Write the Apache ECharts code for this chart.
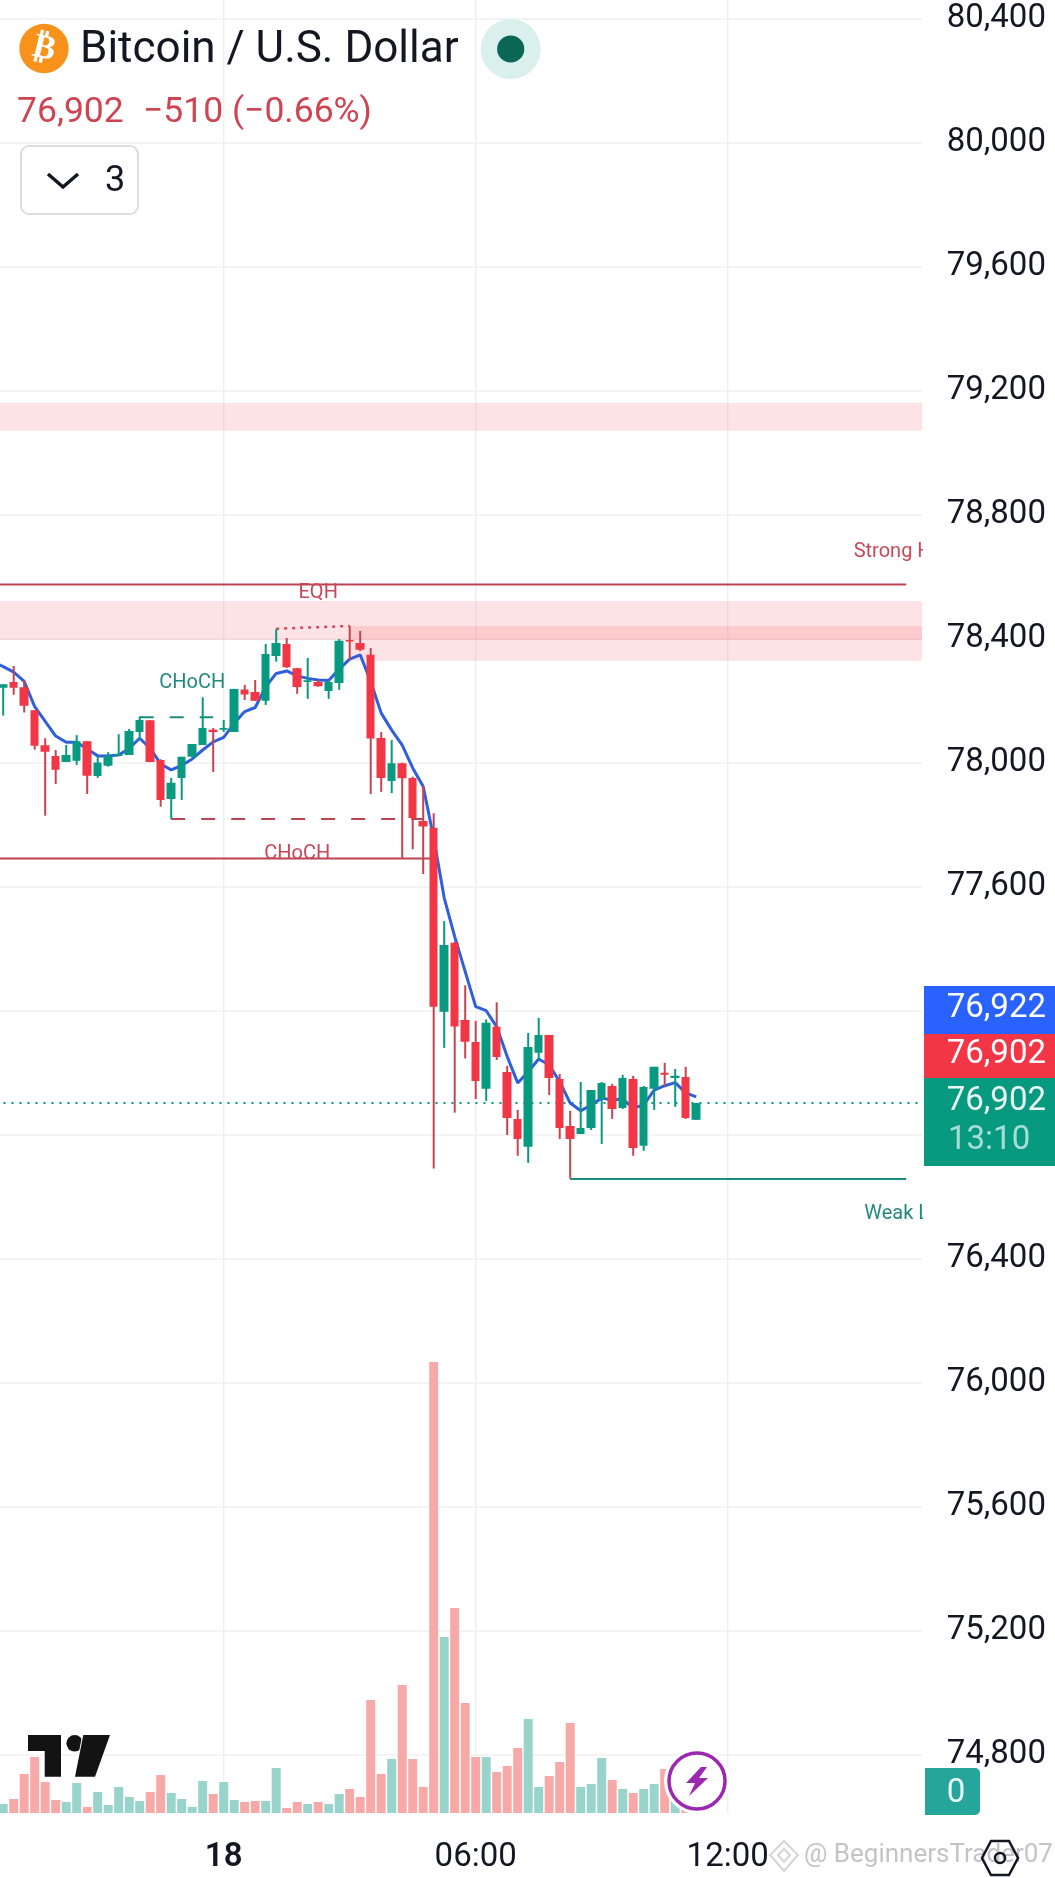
<!DOCTYPE html>
<html><head><meta charset="utf-8"><style>html,body{margin:0;padding:0;background:#fff}#c{width:1055px;height:1878px}</style>
<script src="https://cdn.jsdelivr.net/npm/echarts@6/dist/echarts.min.js"></script></head><body><div id="c"></div>
<script>
const times=["18:30","18:45","19:00","19:15","19:30","19:45","20:00","20:15","20:30","20:45","21:00","21:15","21:30","21:45","22:00","22:15","22:30","22:45","23:00","23:15","23:30","23:45","18","00:15","00:30","00:45","01:00","01:15","01:30","01:45","02:00","02:15","02:30","02:45","03:00","03:15","03:30","03:45","04:00","04:15","04:30","04:45","05:00","05:15","05:30","05:45","06:00","06:15","06:30","06:45","07:00","07:15","07:30","07:45","08:00","08:15","08:30","08:45","09:00","09:15","09:30","09:45","10:00","10:15","10:30","10:45","11:00","11:15","11:30","11:45","12:00","12:15","12:30","12:45","13:00","13:15","13:30","13:45","14:00","14:15","14:30","14:45","15:00","15:15","15:30","15:45","16:00","16:15","16:30"];
const opens=[78300,78242,78260,78243,78169,78056,78022,78002,78006,78069,77957,77990,78022,78025,78099,78137,78009,77883,77951,78019,78057,78106,78106,78099,78236,78228,78200,78344,78383,78305,78260,78260,78231,78257,78396,78386,78348,78080,77941,77998,77951,77812,77790,77197,77419,77170,77099,76948,77148,77002,76851,76761,77064,77122,76980,76828,76802,76822,76915,76957,76886,76980,76764,76948,77000,76983,76986,76848];
const closes=[78250,78253,78242,78184,78055,78035,77977,78025,78069,77958,78001,78022,78028,78102,78138,78002,77880,77935,78019,78060,78112,78099,78112,78238,78220,78200,78351,78386,78308,78244,78266,78247,78260,78393,78391,78364,78078,77951,77998,77950,77822,77794,77213,77412,77149,77100,76973,77161,77051,76854,76786,77083,77122,76983,76822,76786,76822,76944,76967,76883,76983,76757,76954,77019,76993,76990,76854,76902];
const lows=[78230,78152,78219,78162,78042,77829,77931,78002,77993,77899,77951,77987,78022,78025,78073,78002,77858,77818,77880,78017,78057,77970,78099,78099,78202,78199,78186,78326,78306,78222,78206,78245,78206,78235,78331,78360,77899,77906,77902,77691,77721,77641,76691,77080,76871,77046,76915,76909,77041,76799,76732,76709,77041,76928,76786,76658,76802,76815,76770,76851,76883,76732,76748,76880,76957,76890,76851,76848];
const highs=[78320,78253,78312,78267,78170,78079,78041,78057,78089,78069,78020,78034,78092,78109,78149,78138,78011,77951,78019,78060,78211,78112,78138,78238,78251,78267,78383,78431,78402,78306,78338,78267,78267,78399,78441,78425,78370,78099,78073,78000,77955,77925,77837,77489,77422,77282,77167,77172,77227,77022,76880,77128,77177,77122,76996,76877,76970,76944,76970,76964,76993,76990,76957,77019,77032,77012,77019,76902];
const maLine=[78326,78310,78292,78262,78181,78133,78086,78066,78066,78044,78022,78022,78025,78046,78079,78046,77996,77977,77991,78012,78041,78067,78082,78127,78165,78178,78245,78288,78296,78280,78272,78267,78265,78302,78334,78348,78262,78160,78105,78057,77983,77923,77757,77564,77439,77326,77213,77200,77148,77052,76967,77003,77044,77025,76971,76902,76877,76896,76918,76912,76915,76886,76896,76944,76958,76968,76935,76922];
const volumes=[15,9,14,39,56,31,13,11,30,6,21,8,26,16,12,21,38,20,14,6,32,19,31,13,11,12,12,45,5,11,9,11,9,19,24,16,113,39,54,128,54,26,451,176,205,110,56,56,41,47,65,94,26,37,51,90,26,29,55,33,24,20,24,29,44,20,6,5];
const zones=[[null,null,79160,79071],[null,null,78522,78396],[34,null,78441,78329]];
const redSolid=[[null,87,78575,78575],[null,42,77691,77691]];
const redDashed=[[17,41,77818,77818]];
const redDotted=[[27,34,78432,78441]];
const tealSolid=[[55,87,76657,76657]];
const tealDashed=[[14,21,78147,78147]];
const lastPrice=[[null,null,76902,76902]];
const redTexts=[["Strong High",82,78689,"left"],["EQH",31,78555,"center"],["CHoCH",29,77713,"center"]];
const tealTexts=[["Weak Low",83,76552,"left"],["CHoCH",19,78264,"center"]];
const gridTimes=["18","06:00","12:00"];
const paneFloor=74609;

const RED='#F23645',TEAL='#089981';
const chart=echarts.init(document.getElementById('c'),null,{renderer:'canvas',width:1055,height:1878});
const hx=(p,api,i,edge)=> i===null?edge:api.coord([i,0])[0];
function custom(rows,z,render){return{type:'custom',xAxisIndex:0,yAxisIndex:0,z,clip:true,silent:true,
  data:rows.map((r,k)=>[k,0]),renderItem:(p,api)=>render(rows[p.dataIndex],p,api)}}
function levelSeries(rows,color,dash,width){return custom(rows,3,(r,p,api)=>{
  const cs=p.coordSys;
  return{type:'line',shape:{x1:hx(p,api,r[0],cs.x),y1:api.coord([0,r[2]])[1],x2:hx(p,api,r[1],cs.x+cs.width),y2:api.coord([0,r[3]])[1]},
    style:{stroke:color,lineWidth:width||2,lineDash:dash||null,fill:null}}})}
function textSeries(rows,color){return custom(rows,6,(r,p,api)=>{
  const c=api.coord([r[1],r[2]]);
  return{type:'text',style:{text:r[0],x:c[0],y:c[1]+2.4,fill:color,font:'400 20px Roboto',align:r[3],verticalAlign:'middle'}}})}
const T=(text,x,y,font,fill,align)=>({type:'text',z:50,style:{text,x,y,font,fill,align:align||'left',verticalAlign:'middle'}});
const R=(x,y,w,h,fill,r)=>({type:'rect',z:49,shape:{x,y,width:w,height:h,r:r||0},style:{fill}});

chart.setOption({
 animation:false,backgroundColor:'#fff',
 grid:[{left:-12.55,width:934.5,top:-105.3,height:1984,outerBoundsMode:'none'},{left:-12.55,width:934.5,top:1353,height:460,outerBoundsMode:'none'}],
 xAxis:[
  {type:'category',gridIndex:0,data:times,axisLine:{show:false},axisTick:{show:false},axisLabel:{show:false},splitLine:{show:false}},
  {type:'category',gridIndex:1,data:times,axisLine:{show:false},axisTick:{show:false},splitLine:{show:false},
   axisLabel:{margin:28,fontFamily:'Roboto',fontSize:33,color:'#131722',interval:(i,v)=>gridTimes.includes(v),
    formatter:v=>v==='18'?'{b|18}':v,rich:{b:{fontFamily:'Roboto',fontSize:33,fontWeight:600,color:'#131722'}}}}],
 yAxis:[
  {type:'value',gridIndex:0,position:'right',min:74400,max:80800,interval:400,axisLine:{show:false},axisTick:{show:false},
   splitLine:{lineStyle:{color:'#F0F0F0',width:1.5}},
   axisLabel:{showMinLabel:false,showMaxLabel:false,margin:124,align:'right',fontFamily:'Roboto',fontSize:33,color:'#131722',padding:[0,0,2,0],
    formatter:v=>v.toLocaleString('en-US')}},
  {type:'value',gridIndex:1,min:0,max:460,show:false}],
 series:[
  {type:'bar',xAxisIndex:1,yAxisIndex:1,barWidth:9,z:1,silent:true,
   data:volumes.map((v,i)=>({value:v,itemStyle:{color:closes[i]>=opens[i]?'#98D3CC':'#F7A9A7'}}))},
  custom(gridTimes,1,(t,p,api)=>{const x=api.coord([times.indexOf(t),0])[0];
    return{type:'line',shape:{x1:x,y1:0,x2:x,y2:api.coord([0,paneFloor])[1]},style:{stroke:'#F0F0F0',lineWidth:1.5}}}),
  custom(zones,2,(r,p,api)=>{const cs=p.coordSys,x1=hx(p,api,r[0],cs.x),x2=hx(p,api,r[1],cs.x+cs.width),
      y1=api.coord([0,r[2]])[1],y2=api.coord([0,r[3]])[1];
    return{type:'rect',shape:{x:x1,y:y1,width:x2-x1,height:y2-y1},style:{fill:'rgba(242,54,69,0.14)'}}}),
  levelSeries(lastPrice,TEAL,[2,6]),
  levelSeries(redSolid,'#BC4352'),
  levelSeries(redDashed,'#BC4352',[14,16]),
  levelSeries(redDotted,'#CC4A5A',[3,5],2.5),
  levelSeries(tealSolid,'#1F8A7E'),
  levelSeries(tealDashed,'#1F8A7E',[14,16]),
  {type:'line',xAxisIndex:0,yAxisIndex:0,data:maLine,symbol:'none',z:4,silent:true,lineStyle:{color:'#2F5FDD',width:3}},
  custom(opens,5,(o,p,api)=>{const k=p.dataIndex,x=api.coord([k,0])[0];
    return{type:'line',shape:{x1:x,y1:api.coord([0,highs[k]])[1],x2:x,y2:api.coord([0,lows[k]])[1]},
      style:{stroke:closes[k]>=o?TEAL:'#C4444F',lineWidth:2}}}),
  {type:'candlestick',xAxisIndex:0,yAxisIndex:0,barWidth:9,z:5,silent:true,
   data:opens.map((o,i)=>[o,closes[i],lows[i],highs[i]]),
   itemStyle:{color:TEAL,color0:RED,borderColor:'rgba(0,0,0,0)',borderColor0:'rgba(0,0,0,0)',borderWidth:0}},
  textSeries(redTexts,'#C8485A'),
  textSeries(tealTexts,'#22897E')
 ],
 graphic:{elements:[
  {type:'circle',z:50,shape:{cx:44,cy:48.5,r:24.7},style:{fill:'#F7931A'}},
  {type:'text',z:51,rotation:-0.24,x:44,y:49,style:{text:'\u20BF',x:0,y:0,font:'700 34px "DejaVu Sans"',fill:'#fff',align:'center',verticalAlign:'middle'}},
  T('Bitcoin / U.S. Dollar',80,51,'400 44px Roboto','#131722'),
  {type:'circle',z:50,shape:{cx:510.7,cy:49,r:30},style:{fill:'#DAF0EC'}},
  {type:'circle',z:51,shape:{cx:510.7,cy:49,r:13.6},style:{fill:'#0B6655'}},
  T('76,902',17,113,'400 35.5px Roboto','#CF4452'),
  T('\u2212510 (\u22120.66%)',143,113,'400 35.5px Roboto','#CF4452'),
  {type:'rect',z:50,shape:{x:21,y:146,width:117,height:68,r:8},style:{fill:'#fff',stroke:'#DDDDDD',lineWidth:2}},
  {type:'polyline',z:51,shape:{points:[[48,174],[63,187],[78,174]]},style:{stroke:'#131722',lineWidth:3.5,fill:null}},
  T('3',105,182,'400 36px Roboto','#131722'),
  R(924,986,131,48,'#2962FF'),
  R(924,1034,131,44,RED),
  R(924,1078,131,88,TEAL),
  T('76,922',1046,1009,'400 33px Roboto','#fff','right'),
  T('76,902',1046,1055,'400 33px Roboto','#fff','right'),
  T('76,902',1046,1102,'400 33px Roboto','#E8F7F3','right'),
  T('13:10',948,1141,'400 33px Roboto','#A6DED5'),
  {type:'rect',z:49,shape:{x:925,y:1768,width:55,height:47,r:[0,5,5,0]},style:{fill:'#26A69A'}},
  T('0',956,1794,'400 33px Roboto','#E8F7F3','center'),
  {type:'polygon',z:50,shape:{points:[[28,1735],[61,1735],[61,1776.7],[44.7,1776.7],[44.7,1751],[28,1751]]},style:{fill:'#131313',stroke:'#fff',lineWidth:2,strokeFirst:true}},
  {type:'circle',z:50,shape:{cx:74.7,cy:1743.3,r:8.3},style:{fill:'#131313'}},
  {type:'polygon',z:50,shape:{points:[[83.3,1735],[110,1735],[95,1776.7],[75,1776.7]]},style:{fill:'#131313',stroke:'#fff',lineWidth:2,strokeFirst:true}},
  {type:'circle',z:50,shape:{cx:697,cy:1781,r:33},style:{fill:'#fff'}},
  {type:'circle',z:51,shape:{cx:697,cy:1781,r:28},style:{fill:'#fff',stroke:'#9C27B0',lineWidth:3.5}},
  {type:'polygon',z:52,shape:{points:[[701,1767],[686,1783],[695,1783],[689,1796],[708,1778],[699,1778],[707,1767]]},style:{fill:'#9C27B0'}},
  {type:'polygon',z:50,shape:{points:[[784,1841],[798,1855],[784,1871],[770,1855]]},style:{fill:'none',stroke:'#D5D5D5',lineWidth:2}},
  {type:'polygon',z:50,shape:{points:[[784,1849],[790,1855],[784,1862],[778,1855]]},style:{fill:'none',stroke:'#D5D5D5',lineWidth:2}},
  T('@ BeginnersTrader07',804,1855,'400 26px Roboto','#C4C4C4'),
  {type:'polygon',z:51,shape:{points:[[982,1858],[991,1841],[1009,1841],[1018,1858],[1009,1875],[991,1875]]},style:{fill:'none',stroke:'#131722',lineWidth:2.5}},
  {type:'circle',z:51,shape:{cx:1000,cy:1858,r:5},style:{fill:'none',stroke:'#131722',lineWidth:2.5}}
 ]}
});
</script></body></html>
